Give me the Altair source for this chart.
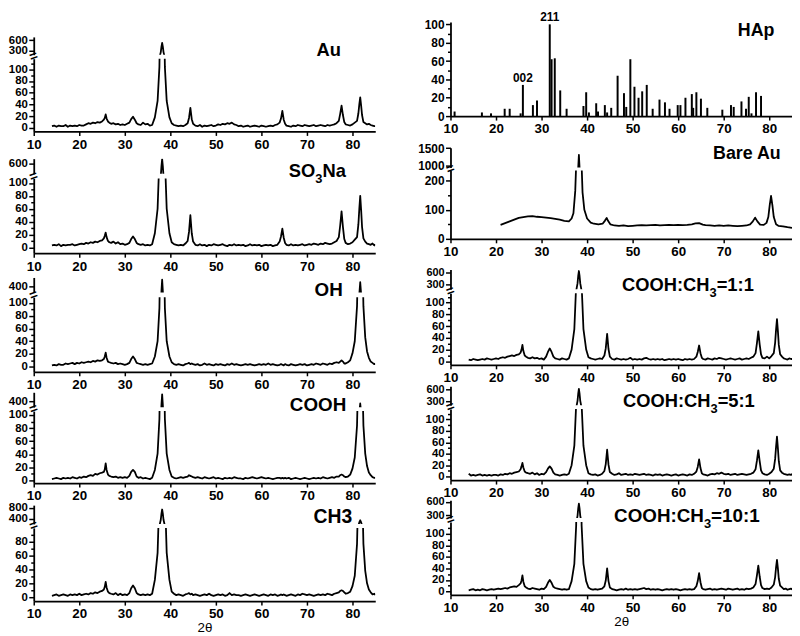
import altair as alt
import pandas as pd

FONT = "Liberation Sans"
W = 345

# ---------------- shared 2-theta grid (degrees) for the Au film patterns ----------------
two_theta = (
    [14.0, 14.5, 15.0, 15.5, 16.0, 16.5, 17.0, 17.5, 18.0, 18.5, 19.0, 19.5, 20.0, 20.5, 21.0, 21.5, 22.0, 22.5, 23.0, 23.5, 24.0, 24.5]
    + [25.0, 25.4, 25.6, 25.8, 26.0, 26.3, 26.6]
    + [27.0, 27.5, 28.0, 28.5, 29.0, 29.5, 30.0, 30.5]
    + [31.0, 31.4, 31.8, 32.2, 32.6]
    + [33.0, 33.5, 34.0, 34.5, 35.0, 35.5, 36.0]
    + [36.6, 37.2, 37.6, 37.9, 38.05, 38.2, 38.35, 38.5, 38.8, 39.2, 39.8]
    + [40.3, 40.8, 41.3, 41.8, 42.3, 42.8, 43.3]
    + [43.8, 44.1, 44.4, 44.7, 45.0]
    + [45.5, 46.0, 46.5, 47.0, 47.5, 48.0, 48.5, 49.0, 49.5, 50.0, 50.5, 51.0, 51.5, 52.0, 52.5, 53.0, 53.5, 54.0, 54.5,
       55.0, 55.5, 56.0, 56.5, 57.0, 57.5, 58.0, 58.5, 59.0, 59.5, 60.0, 60.5, 61.0, 61.5, 62.0, 62.5, 63.0, 63.5]
    + [64.0, 64.3, 64.6, 64.9, 65.2]
    + [65.5, 66.0, 66.5, 67.0, 67.5, 68.0, 68.5, 69.0, 69.5, 70.0, 70.5, 71.0, 71.5, 72.0, 72.5, 73.0, 73.5, 74.0, 74.5,
       75.0, 75.5, 76.0, 76.5]
    + [77.0, 77.3, 77.6, 77.9, 78.2]
    + [78.5, 79.0, 79.5, 80.0, 80.5]
    + [81.0, 81.3, 81.5, 81.7, 81.9, 82.1, 82.4]
    + [82.8, 83.2, 83.6, 84.0, 84.4, 84.8, 85.0]
)

# ---------------- intensities ----------------
au_counts = (
    [3, 4, 2, 4, 3, 3, 5, 2, 4, 3, 4, 3, 5, 4, 4, 6, 8, 7, 9, 8, 10, 9]
    + [11, 14, 17, 23, 16, 11, 9]
    + [7, 8, 6, 7, 5, 6, 5, 7]
    + [9, 15, 19, 14, 8]
    + [6, 5, 9, 6, 7, 4, 5]
    + [18, 46, 104, 264, 420, 525, 420, 264, 104, 46, 18]
    + [8, 5, 4, 3, 4, 3, 5]
    + [8, 17, 34, 15, 7]
    + [4, 3, 5, 2, 4, 3, 4, 5, 3, 4, 6, 5, 7, 6, 8, 7, 9, 6, 5, 3, 4, 2, 3, 4, 2, 3, 4, 3, 2, 4, 3, 2, 3, 4, 3, 5, 6]
    + [9, 16, 29, 14, 7]
    + [4, 3, 2, 4, 3, 5, 4, 3, 5, 4, 3, 4, 5, 3, 4, 5, 4, 3, 5, 4, 5, 6, 8]
    + [12, 24, 38, 22, 10]
    + [6, 5, 4, 6, 9]
    + [12, 25, 40, 52, 38, 22, 10]
    + [8, 6, 7, 5, 4, 3, 3]
)
so3na_counts = (
    [3, 4, 3, 5, 2, 4, 3, 4, 4, 5, 3, 4, 5, 6, 5, 7, 6, 8, 7, 9, 8, 10]
    + [11, 14, 18, 23, 16, 10, 8]
    + [7, 9, 6, 8, 5, 6, 4, 5]
    + [7, 13, 17, 13, 7]
    + [5, 4, 5, 3, 4, 3, 5]
    + [22, 60, 140, 350, 555, 690, 555, 350, 140, 60, 22]
    + [8, 5, 4, 3, 4, 3, 6]
    + [10, 24, 50, 22, 9]
    + [4, 3, 5, 3, 4, 2, 4, 3, 5, 4, 3, 4, 5, 3, 2, 4, 3, 5, 3, 4, 3, 4, 2, 3, 5, 3, 4, 3, 4, 2, 3, 4, 3, 4, 2, 3, 4]
    + [9, 17, 29, 15, 7]
    + [4, 3, 5, 3, 4, 3, 4, 5, 3, 4, 5, 4, 6, 5, 4, 6, 5, 7, 6, 5, 6, 8, 10]
    + [16, 34, 56, 32, 13]
    + [7, 5, 6, 8, 12]
    + [16, 36, 60, 80, 58, 32, 14]
    + [9, 6, 5, 4, 6, 3, 5]
)
oh_counts = (
    [2, 3, 2, 4, 3, 3, 5, 4, 5, 6, 4, 6, 5, 7, 6, 7, 8, 7, 9, 8, 10, 9]
    + [10, 12, 16, 22, 14, 8, 7]
    + [6, 5, 6, 4, 5, 4, 3, 4]
    + [6, 12, 16, 12, 6]
    + [5, 4, 3, 4, 3, 4, 5]
    + [16, 40, 92, 228, 362, 452, 362, 228, 92, 40, 16]
    + [7, 4, 3, 4, 3, 2, 4]
    + [5, 6, 4, 5, 4]
    + [3, 4, 2, 3, 5, 3, 4, 3, 2, 4, 3, 4, 3, 2, 4, 3, 5, 3, 4, 3, 2, 3, 4, 3, 4, 3, 2, 3, 4, 3, 4, 3, 5, 3, 4, 3, 2]
    + [3, 4, 3, 2, 4]
    + [3, 2, 4, 3, 2, 3, 4, 3, 4, 2, 3, 4, 3, 5, 4, 3, 5, 4, 3, 5, 4, 6, 7]
    + [6, 8, 10, 8, 5]
    + [5, 7, 10, 21, 40]
    + [95, 204, 337, 432, 337, 204, 95]
    + [46, 24, 14, 8, 6, 4, 5]
)
cooh_counts = (
    [2, 3, 4, 3, 2, 4, 3, 4, 3, 5, 4, 3, 5, 4, 6, 5, 7, 8, 7, 10, 9, 11]
    + [12, 13, 17, 26, 16, 9, 7]
    + [6, 5, 6, 4, 5, 4, 5, 4]
    + [7, 13, 16, 13, 6]
    + [4, 5, 3, 4, 3, 2, 4]
    + [16, 41, 94, 233, 370, 462, 370, 233, 94, 41, 16]
    + [6, 4, 3, 4, 5, 4, 5]
    + [6, 8, 7, 6, 5]
    + [4, 5, 4, 3, 5, 4, 3, 4, 5, 3, 4, 3, 2, 4, 3, 4, 3, 5, 4, 3, 3, 2, 4, 3, 4, 5, 4, 3, 4, 5, 4, 3, 4, 3, 2, 3, 4]
    + [4, 3, 4, 3, 4]
    + [3, 4, 2, 3, 4, 3, 2, 3, 4, 3, 2, 3, 4, 3, 4, 3, 5, 4, 3, 4, 5, 4, 6]
    + [6, 8, 9, 8, 6]
    + [5, 6, 9, 18, 35]
    + [84, 180, 298, 382, 298, 180, 84]
    + [41, 22, 12, 8, 5, 4, 4]
)
ch3_counts = (
    [2, 3, 4, 2, 3, 4, 3, 2, 4, 3, 4, 3, 5, 3, 4, 5, 4, 6, 5, 7, 6, 8]
    + [9, 11, 15, 22, 14, 8, 6]
    + [5, 4, 6, 3, 5, 3, 4, 3]
    + [6, 13, 17, 13, 6]
    + [4, 3, 4, 3, 4, 3, 5]
    + [25, 64, 150, 372, 594, 742, 594, 372, 150, 64, 25]
    + [8, 5, 3, 4, 3, 2, 4]
    + [5, 6, 4, 5, 3]
    + [4, 3, 2, 3, 4, 3, 5, 3, 2, 3, 4, 3, 4, 2, 3, 6, 3, 4, 3, 3, 2, 3, 4, 3, 2, 3, 4, 3, 2, 3, 4, 3, 2, 4, 3, 4, 2]
    + [3, 4, 3, 4, 3]
    + [2, 3, 4, 3, 2, 4, 3, 5, 4, 3, 4, 3, 2, 3, 4, 3, 4, 3, 5, 4, 3, 5, 6]
    + [7, 9, 10, 9, 7]
    + [5, 6, 8, 16, 31]
    + [77, 166, 274, 352, 274, 166, 77]
    + [38, 20, 11, 7, 4, 5, 3]
)
ratio_1_1_counts = (
    [3, 2, 4, 3, 2, 3, 4, 3, 5, 4, 3, 4, 5, 4, 6, 7, 6, 8, 9, 10, 9, 11]
    + [12, 15, 20, 28, 18, 10, 8]
    + [6, 5, 7, 5, 6, 4, 5, 3]
    + [8, 16, 22, 16, 8]
    + [5, 4, 3, 5, 4, 3, 5]
    + [20, 55, 130, 322, 514, 642, 514, 322, 130, 55, 20]
    + [7, 5, 4, 3, 4, 5, 4]
    + [10, 22, 47, 21, 8]
    + [4, 3, 5, 4, 3, 4, 3, 4, 6, 3, 4, 3, 4, 3, 5, 6, 4, 3, 4, 3, 4, 3, 4, 2, 3, 4, 3, 4, 3, 4, 3, 2, 4, 3, 4, 3, 4]
    + [8, 16, 27, 14, 6]
    + [4, 3, 5, 4, 3, 5, 4, 6, 5, 4, 3, 4, 5, 4, 3, 4, 5, 3, 4, 5, 4, 6, 8]
    + [14, 31, 51, 29, 12]
    + [6, 5, 8, 5, 9]
    + [14, 32, 54, 72, 52, 28, 12]
    + [8, 5, 4, 3, 5, 4, 4]
)
ratio_5_1_counts = (
    [5, 2, 3, 2, 3, 4, 2, 3, 2, 3, 2, 3, 3, 2, 4, 3, 5, 4, 6, 5, 7, 8]
    + [9, 13, 18, 24, 16, 9, 7]
    + [6, 5, 7, 4, 6, 3, 5, 4]
    + [8, 14, 18, 14, 7]
    + [4, 3, 2, 3, 4, 3, 5]
    + [20, 54, 126, 312, 498, 622, 498, 312, 126, 54, 20]
    + [6, 4, 3, 4, 2, 3, 5]
    + [10, 22, 47, 21, 8]
    + [5, 3, 4, 6, 3, 4, 5, 3, 4, 3, 5, 4, 3, 4, 5, 3, 4, 3, 2, 4, 3, 4, 2, 3, 4, 3, 2, 3, 4, 2, 3, 4, 3, 2, 4, 3, 5]
    + [9, 17, 30, 15, 6]
    + [4, 3, 2, 4, 5, 4, 6, 5, 7, 5, 4, 5, 3, 4, 5, 3, 4, 5, 4, 3, 4, 5, 7]
    + [13, 28, 46, 27, 11]
    + [6, 4, 3, 5, 8]
    + [14, 31, 52, 70, 50, 27, 11]
    + [7, 5, 4, 3, 4, 3, 5]
)
ratio_10_1_counts = (
    [2, 3, 4, 2, 3, 2, 4, 3, 2, 3, 4, 3, 4, 5, 4, 5, 6, 5, 7, 8, 9, 8]
    + [11, 14, 19, 28, 17, 9, 7]
    + [5, 4, 6, 5, 4, 3, 5, 4]
    + [8, 15, 20, 15, 8]
    + [6, 5, 4, 3, 4, 3, 4]
    + [18, 48, 114, 282, 450, 562, 450, 282, 114, 48, 18]
    + [7, 4, 3, 4, 3, 4, 5]
    + [9, 19, 40, 18, 7]
    + [4, 3, 2, 3, 4, 3, 5, 3, 4, 3, 4, 3, 4, 5, 6, 4, 5, 3, 4, 3, 4, 3, 2, 3, 4, 3, 4, 3, 4, 3, 2, 3, 4, 3, 4, 3, 4]
    + [9, 18, 32, 16, 6]
    + [4, 3, 4, 5, 3, 4, 3, 4, 5, 4, 3, 5, 4, 3, 4, 5, 3, 4, 3, 5, 4, 5, 7]
    + [13, 28, 45, 26, 11]
    + [6, 4, 5, 4, 7]
    + [12, 25, 42, 55, 40, 22, 10]
    + [7, 4, 5, 3, 4, 5, 3]
)

# Bare Au (own grid)
bare_theta = [21, 22, 23, 24, 25, 26, 27, 28, 29, 30, 31, 32, 33, 34, 35, 36,
              36.6, 37.0, 37.4, 37.7, 37.95, 38.2, 38.45, 38.7, 39.0, 39.4,
              40.0, 40.8, 41.5, 42.5, 43.4, 43.9, 44.3, 44.6, 45.1,
              46, 47, 48, 49, 50, 51, 52, 53, 54, 55, 56, 57, 58, 59, 60, 61, 62, 63,
              63.8, 64.6, 65.4,
              66, 67, 68, 69, 70, 71, 72, 73, 74, 75,
              75.8, 76.4, 76.9, 77.4, 78, 78.8, 79.4, 79.8, 80.1, 80.4, 80.7, 81.0, 81.5,
              82, 83, 84, 85]
bare_counts = [48, 54, 60, 66, 72, 75, 77, 78, 76, 75, 73, 71, 69, 66, 62, 60,
               70, 88, 165, 300, 680, 1310, 680, 300, 160, 100,
               70, 56, 52, 50, 52, 62, 72, 62, 50,
               46, 45, 46, 44, 45, 46, 47, 46, 47, 48, 46, 47, 48, 47, 48, 47, 48, 50,
               53, 54, 49,
               47, 46, 45, 46, 45, 46, 45, 44, 45, 46,
               50, 60, 73, 60, 49, 48, 55, 75, 115, 148, 115, 75, 50,
               45, 43, 40, 38]

# HAp reference pattern (stick positions / relative intensities)
hap_pos = [10.9, 16.9, 18.9, 21.9, 23.0, 25.4, 25.9, 28.1, 29.0, 31.8, 32.2, 32.9, 34.1, 35.5, 39.2, 39.8, 40.4,
           42.0, 42.4, 43.9, 44.4, 45.3, 46.7, 48.1, 48.6, 49.5, 50.4, 51.3, 52.1, 53.1, 54.4, 55.9, 57.1, 58.1,
           59.9, 60.5, 61.6, 63.0, 63.3, 64.0, 65.0, 66.4, 69.7, 71.6, 72.2, 73.9, 74.9, 75.5, 76.1, 77.1, 78.2]
hap_int = [5, 4, 3, 8, 8, 3, 34, 12, 17, 100, 62, 63, 28, 8, 11, 26, 4,
           14, 5, 12, 4, 9, 44, 25, 10, 62, 32, 20, 27, 34, 8, 18, 15, 8,
           12, 12, 20, 24, 9, 26, 19, 9, 7, 12, 10, 16, 8, 21, 3, 26, 22]
hap_tag_text = ["002", "211"]
hap_tag_pos = [25.9, 31.8]
hap_tag_int = [34, 100]

x_ticks = [10, 20, 30, 40, 50, 60, 70, 80]

# ---------------- helpers ----------------
ONE = pd.DataFrame({"k": [0]})
CHAR_W = {"A": .722, "B": .722, "C": .722, "H": .722, "N": .722, "O": .778, "S": .667,
          "a": .556, "e": .556, "p": .611, "r": .389, "u": .611, " ": .278, ":": .333, "=": .584}


def frame(x, y):
    assert len(x) == len(y), (len(x), len(y))
    return pd.DataFrame({"two_theta": x, "counts": y})


def text_mark(text, x, y, size, align="left", baseline="alphabetic", angle=None):
    kw = dict(text=text, font=FONT, fontSize=size, fontWeight="bold", color="black",
              align=align, baseline=baseline)
    if angle is not None:
        kw["angle"] = angle
    return alt.Chart(ONE).mark_text(**kw).encode(x=alt.value(x), y=alt.value(y))


def title_layers(pieces, x0, cy, size):
    base = cy + 0.358 * size
    out, x = [], x0
    for text, fs, dy in pieces:
        out.append(text_mark(text, x, base + dy, fs))
        x += sum(CHAR_W.get(c, .556) for c in text) * fs
    return out


def x_axis(title=None):
    return alt.Axis(values=x_ticks, format="d", tickSize=4, labelPadding=2, labelFontSize=13.5,
                    labelFlush=False, labelOverlap=False, title=title, titleFontWeight="normal",
                    titleFontSize=13.5, titlePadding=0)


def y_axis(values, size, step=None):
    kw = dict(values=values, format="d", labelFontSize=size, labelOverlap=False, labelPadding=1.5,
              title=None)
    if step:
        kw["labelExpr"] = f"datum.value % {step} === 0 ? datum.label : ''"
        kw["tickSize"] = {"condition": {"test": f"datum.value % {step} === 0", "value": 5}, "value": 3}
    else:
        kw["tickSize"] = 5
    return alt.Axis(**kw)


def line(df, dom, yax, xax):
    return alt.Chart(df).mark_line(color="black", strokeWidth=1.8, clip=True, strokeJoin="round").encode(
        x=alt.X("two_theta:Q", scale=alt.Scale(domain=[10, 85], nice=False, zero=False), axis=xax),
        y=alt.Y("counts:Q", scale=alt.Scale(domain=list(dom), nice=False, zero=False), axis=yax),
    )


def spacer(h):
    return alt.Chart(ONE).mark_point(opacity=0, size=1).encode(
        x=alt.value(W / 2), y=alt.value(h / 2)).properties(width=W, height=h)


def broken_panel(df, s):
    ylab = s.get("ylab", 11.5)
    step = s.get("step", 20)
    minor = s.get("minor", 10)
    top_axis = y_axis(s["top_ticks"], s.get("ylab_top", ylab))
    bvals = [v for v in range(0, 2000, minor) if v <= s["bot_dom"][1] - 1 and v <= s.get("bot_max", 1e9)]
    bot_axis = y_axis(bvals, ylab, step)
    top = alt.layer(
        line(df, s["top_dom"], top_axis, None),
        *title_layers(s["title"], s["tx"], s["tcy"], s["size"]),
    ).properties(width=W, height=s["h_top"])
    bot = alt.layer(
        line(df, s["bot_dom"], bot_axis, x_axis(s.get("xtitle"))),
        text_mark("=", 0, -s["gap"] / 2, 14, align="center", baseline="middle", angle=340),
    ).properties(width=W, height=s["h_bot"])
    return [spacer(s["lead"]), top, spacer(s["gap"]), bot]


# ---------------- left column ----------------
left_specs = [
    dict(df=frame(two_theta, au_counts), top_dom=(190, 690), top_ticks=[300, 600], bot_dom=(-6, 118),
         h_top=18, gap=4, h_bot=73.5, lead=25, title=[("Au", 18.5, 0)], tx=285.7, tcy=12.3, size=18.5),
    dict(df=frame(two_theta, so3na_counts), top_dom=(400, 700), top_ticks=[600], bot_dom=(-9, 107),
         h_top=15.3, gap=3.5, h_bot=75.5, lead=26.5,
         title=[("SO", 18.5, 0), ("3", 13, 6), ("Na", 18.5, 0)], tx=257.7, tcy=11.6, size=18.5),
    dict(df=frame(two_theta, oh_counts), top_dom=(350, 470), top_ticks=[400], bot_dom=(-8, 109),
         h_top=15.3, gap=4, h_bot=75.3, lead=24, title=[("OH", 19, 0)], tx=283.7, tcy=11.6, size=19),
    dict(df=frame(two_theta, cooh_counts), top_dom=(350, 480), top_ticks=[400], bot_dom=(-4, 106),
         h_top=15, gap=4, h_bot=72.7, lead=19.5, title=[("COOH", 19, 0)], tx=258.7, tcy=11.7, size=19),
    dict(df=frame(two_theta, ch3_counts), top_dom=(220, 900), top_ticks=[400, 800], bot_dom=(-5.7, 100),
         h_top=19, gap=4, h_bot=74, lead=21.5, title=[("CH3", 19.5, 0)], tx=282.7, tcy=10.7, size=19.5,
         xtitle="2θ", bot_max=90),
]
left_items = []
for s in left_specs:
    left_items += broken_panel(s["df"], s)
left = alt.vconcat(*left_items, spacing=0, bounds="flush").resolve_scale(x="independent", y="independent")

# ---------------- right column ----------------
hap_df = pd.DataFrame({"two_theta": hap_pos, "intensity": hap_int})
tag_df = pd.DataFrame({"two_theta": hap_tag_pos, "intensity": hap_tag_int, "label": hap_tag_text})
hap_x = alt.X("two_theta:Q", scale=alt.Scale(domain=[10, 85], nice=False, zero=False), axis=x_axis())
hap_y = alt.Y("intensity:Q", scale=alt.Scale(domain=[0, 102.5], nice=False, zero=False),
              axis=y_axis(list(range(0, 101, 10)), 12, 20))
hap = alt.layer(
    alt.Chart(hap_df).mark_rule(color="black", strokeWidth=2).encode(x=hap_x, y=hap_y, y2=alt.datum(0)),
    alt.Chart(tag_df).mark_text(font=FONT, fontSize=12, fontWeight="bold", color="black",
                                baseline="bottom", dy=0).encode(x=hap_x, y=hap_y, text="label:N"),
    *title_layers([("HAp", 18, 0)], 290.3, 7.3, 18),
).properties(width=W, height=95)

right_specs = [
    dict(df=frame(bare_theta, bare_counts), top_dom=(950, 1510), top_ticks=[1000, 1500], bot_dom=(0, 235),
         h_top=20, gap=3, h_bot=69, lead=32, title=[("Bare Au", 18, 0)], tx=265.3, tcy=4.8, size=18,
         ylab=12, step=100, minor=50),
    dict(df=frame(two_theta, ratio_1_1_counts), top_dom=(170, 680), top_ticks=[300, 600], bot_dom=(-6, 116),
         h_top=20, gap=4, h_bot=72.3, lead=31, ylab_top=11,
         title=[("COOH:CH", 18.5, 0), ("3", 13, 6), ("=1:1", 18.5, 0)], tx=173.3, tcy=15.3, size=18.5),
    dict(df=frame(two_theta, ratio_5_1_counts), top_dom=(200, 690), top_ticks=[300, 600], bot_dom=(-6, 118),
         h_top=19, gap=4, h_bot=71.7, lead=20.5, ylab_top=11,
         title=[("COOH:CH", 18.5, 0), ("3", 13, 6), ("=5:1", 18.5, 0)], tx=174.3, tcy=14.3, size=18.5),
    dict(df=frame(two_theta, ratio_10_1_counts), top_dom=(232, 640), top_ticks=[300, 600], bot_dom=(-6, 120.7),
         h_top=18, gap=4, h_bot=73.7, lead=20, ylab_top=11,
         title=[("COOH:CH", 19, 0), ("3", 13, 6), ("=10:1", 19, 0)], tx=165.3, tcy=15, size=19,
         xtitle="2θ"),
]
right_items = [spacer(10), hap]
for s in right_specs:
    right_items += broken_panel(s["df"], s)
right = alt.vconcat(*right_items, spacing=0, bounds="flush").resolve_scale(x="independent", y="independent")

chart = alt.hconcat(left, right, spacing=42).resolve_scale(
    x="independent", y="independent"
).properties(padding=0).configure_view(stroke=None).configure_axis(
    labelFont=FONT, labelFontWeight="bold", labelColor="black", domainColor="black", domainWidth=1.8,
    tickColor="black", tickWidth=1.5, grid=False, titleFont=FONT, titleColor="black",
)

chart.save("out.html", embed_options={"renderer": "svg", "actions": False})
